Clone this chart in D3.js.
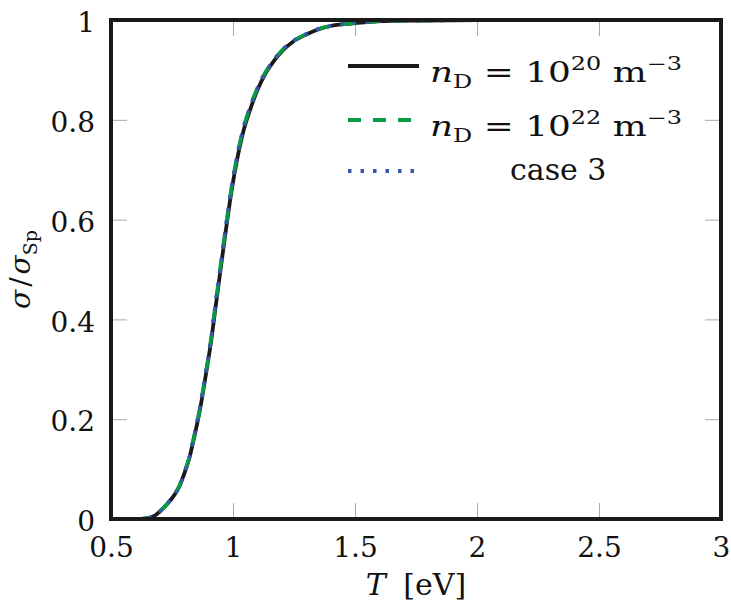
<!DOCTYPE html>
<html>
<head>
<meta charset="utf-8">
<script src="https://cdn.jsdelivr.net/npm/d3@7"></script>
<style>
  body { margin: 0; background: #fff; }
  svg { display: block; }
</style>
</head>
<body>
<svg width="731" height="607"></svg>
<script>
// Temperature grid (eV)
const temps = [0.5, 0.55, 0.6, 0.65, 0.68, 0.7, 0.73, 0.755, 0.78, 0.796, 0.82, 0.837,
  0.865, 0.889, 0.91, 0.926, 0.945, 0.96, 0.974, 0.987, 1.0, 1.02, 1.042, 1.07, 1.097,
  1.13, 1.165, 1.2, 1.247, 1.3, 1.343, 1.4, 1.48, 1.55, 1.615, 1.8, 2.0, 2.5, 3.0];

// sigma / sigma_Sp for the three cases
const ratioN20 = [0, 0, 0, 0.002, 0.007, 0.015, 0.03, 0.045, 0.065, 0.085, 0.12, 0.155,
  0.22, 0.29, 0.355, 0.415, 0.485, 0.54, 0.59, 0.635, 0.675, 0.728, 0.776, 0.82, 0.856,
  0.89, 0.916, 0.937, 0.957, 0.971, 0.98, 0.988, 0.993, 0.996, 0.998, 0.999, 1, 1, 1];
const ratioN22 = [0, 0, 0, 0.002, 0.007, 0.015, 0.03, 0.046, 0.066, 0.087, 0.122, 0.158,
  0.224, 0.295, 0.361, 0.422, 0.492, 0.547, 0.597, 0.642, 0.682, 0.735, 0.782, 0.825, 0.86,
  0.893, 0.918, 0.939, 0.958, 0.972, 0.981, 0.988, 0.993, 0.996, 0.998, 0.999, 1, 1, 1];
const ratioCase3 = ratioN22.slice();

const xTicks = [0.5, 1, 1.5, 2, 2.5, 3];
const yTicks = [0, 0.2, 0.4, 0.6, 0.8, 1];

const svg = d3.select('svg');
const margin = { top: 20, right: 10, bottom: 88, left: 111 };
const width = +svg.attr('width') - margin.left - margin.right;
const height = +svg.attr('height') - margin.top - margin.bottom;
const g = svg.append('g').attr('transform', `translate(${margin.left},${margin.top})`);

const x = d3.scaleLinear().domain([0.5, 3]).range([0, width]);
const y = d3.scaleLinear().domain([0, 1]).range([height, 0]);

const serif = "'DejaVu Serif', serif";
const fmt = d => (d === 0 ? '0' : d3.format('~g')(d));

// Axes with inward grey ticks
function styleAxis(sel) {
  sel.select('.domain').remove();
  sel.selectAll('.tick line').attr('stroke', '#aaa').attr('stroke-width', 1);
  sel.selectAll('.tick text').attr('fill', '#111').attr('font-family', serif).attr('font-size', 28);
}

g.append('g')
  .attr('transform', `translate(0,${height})`)
  .call(d3.axisBottom(x).tickValues(xTicks).tickFormat(fmt).tickSizeInner(-16).tickSizeOuter(0).tickPadding(18))
  .call(styleAxis);

g.append('g')
  .call(d3.axisTop(x).tickValues(xTicks).tickFormat('').tickSizeInner(-16).tickSizeOuter(0))
  .call(styleAxis);

g.append('g')
  .call(d3.axisLeft(y).tickValues(yTicks).tickFormat(fmt).tickSizeInner(-16).tickSizeOuter(0).tickPadding(16))
  .call(styleAxis)
  .selectAll('.tick text').attr('dy', '0.42em');

g.append('g')
  .attr('transform', `translate(${width},0)`)
  .call(d3.axisRight(y).tickValues(yTicks).tickFormat('').tickSizeInner(-16).tickSizeOuter(0))
  .call(styleAxis);

// Curves
const line = d3.line()
  .x(d => x(d[0]))
  .y(d => y(d[1]))
  .curve(d3.curveMonotoneX);

const series = [
  { name: 'n20', values: ratioN20, color: '#1a1a1a', dash: null },
  { name: 'n22', values: ratioN22, color: '#0a9a45', dash: '13,12' },
  { name: 'case3', values: ratioCase3, color: '#3a55b0', dash: '3.5,9' }
];

const plot = g.append('g');
series.forEach(s => {
  plot.append('path')
    .datum(temps.map((t, i) => [t, s.values[i]]))
    .attr('fill', 'none')
    .attr('stroke', s.color)
    .attr('stroke-width', 3.8)
    .attr('stroke-dasharray', s.dash)
    .attr('d', line);
});

// Frame
g.append('rect')
  .attr('width', width)
  .attr('height', height)
  .attr('fill', 'none')
  .attr('stroke', '#1a1a1a')
  .attr('stroke-width', 4);

// Legend
const legend = svg.append('g').attr('font-family', serif).attr('fill', '#111');
const rows = [
  { s: series[0], y: 66, base: 82 },
  { s: series[1], y: 120, base: 136 },
  { s: series[2], y: 171, base: 180 }
];
rows.forEach(r => {
  legend.append('line')
    .attr('x1', 348).attr('x2', 419)
    .attr('y1', r.y).attr('y2', r.y)
    .attr('stroke', r.s.color)
    .attr('stroke-width', 4)
    .attr('stroke-dasharray', r.s.dash);
});

function densityLabel(base, exp) {
  const t = legend.append('text')
    .attr('transform', `translate(430,${base}) scale(1.33,1)`)
    .attr('font-size', 27);
  t.append('tspan').attr('font-style', 'italic').text('n');
  t.append('tspan').attr('font-size', 18).attr('dy', 6).text('D');
  t.append('tspan').attr('dy', -6).text(' = 10');
  t.append('tspan').attr('font-size', 18).attr('dy', -12).text(exp);
  t.append('tspan').attr('dy', 12).text(' m');
  t.append('tspan').attr('font-size', 18).attr('dy', -12).text('\u22123');
}

densityLabel(rows[0].base, '20');
densityLabel(rows[1].base, '22');
legend.append('text').attr('x', 510).attr('y', rows[2].base).attr('font-size', 30).text('case 3');

// Axis titles
const xt = svg.append('text')
  .attr('x', margin.left + width / 2)
  .attr('y', 595)
  .attr('text-anchor', 'middle')
  .attr('font-family', serif)
  .attr('font-size', 30)
  .attr('fill', '#111');
xt.append('tspan').attr('font-style', 'italic').text('T');
xt.append('tspan').attr('dx', 8).text(' [eV]');

const yt = svg.append('text')
  .attr('transform', `translate(30,${margin.top + height / 2}) rotate(-90)`)
  .attr('text-anchor', 'middle')
  .attr('font-family', serif)
  .attr('font-size', 28)
  .attr('fill', '#111');
yt.append('tspan').attr('font-style', 'italic').text('\u03c3');
yt.append('tspan').attr('dx', 3).text('/');
yt.append('tspan').attr('dx', 3).attr('font-style', 'italic').text('\u03c3');
yt.append('tspan').attr('font-size', 19).attr('dy', 7).text('Sp');
</script>
</body>
</html>
